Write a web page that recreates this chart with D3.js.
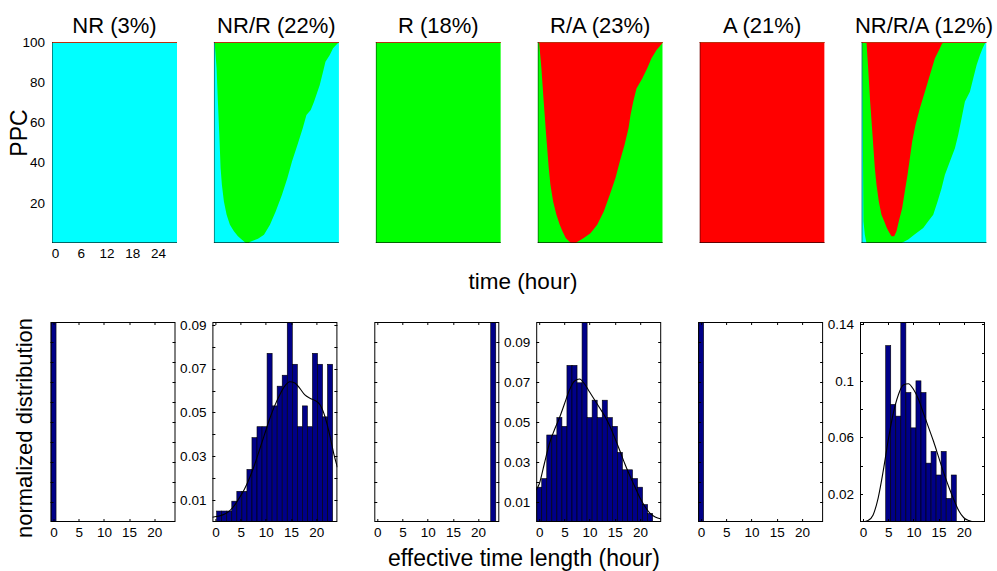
<!DOCTYPE html>
<html>
<head>
<meta charset="utf-8">
<script src="https://cdn.jsdelivr.net/npm/d3@7"></script>
<style>
  body { margin: 0; background: #fff; }
  svg { display: block; font-family: "Liberation Sans", Arial, Helvetica, sans-serif; }
</style>
</head>
<body>
<svg id="chart" width="997" height="571"></svg>
<script>
// panel titles and states
const panelTitles = ['NR (3%)', 'NR/R (22%)', 'R (18%)', 'R/A (23%)', 'A (21%)', 'NR/R/A (12%)']
const baseStates = ['NR', 'NR', 'R', 'R', 'A', 'NR']
const stateColors = { NR: '#00ffff', R: '#00ff00', A: '#ff0000' }

// top row tick labels
const timeTicks = [0, 6, 12, 18, 24]
const ppcTicks = [20, 40, 60, 80, 100]

// top row boundaries, [PPC, hour]; left edge goes 100 -> 0, right edge 0 -> 100
const nrrGreenLeft = [[100, -0.54], [86.9, -0.07], [70.3, 0.23], [53.8, 0.56], [37.3, 0.86], [29, 1.16],
  [20.7, 1.63], [14.1, 2.26], [9.1, 3.03], [5.8, 3.96], [3.3, 4.9], [1.6, 5.83], [0.5, 6.46], [0, 6.7]]
const nrrGreenRight = [[0, 7.5], [0.5, 7.62], [2.1, 9.56], [4.1, 10.96], [9.1, 12.35], [15.7, 13.68], [24, 15.15],
  [32.3, 16.41], [40.5, 17.48], [48.8, 18.74], [57.1, 19.98], [63.7, 20.84], [66.2, 21.84], [70.3, 22.61],
  [78.6, 23.94], [85.2, 24.71], [90.2, 25.27], [93.5, 26.27], [96.9, 27.04], [100, 28.4]]

const raRedLeft = [[100, -0.38], [86.9, 0.16], [70.3, 0.7], [53.8, 1.26], [37.3, 1.87], [29, 2.26], [20.7, 2.89],
  [14.1, 3.66], [9.1, 4.43], [5.8, 5.06], [2.5, 5.83], [0.5, 6.76], [0, 7.0]]
const raRedRight = [[0, 8.2], [0.5, 8.48], [2.5, 10.02], [4.9, 11.58], [9.1, 13.15], [15.7, 14.68], [24, 16.08],
  [32.3, 17.41], [40.5, 18.41], [48.8, 19.51], [57.1, 20.44], [63.7, 20.91], [70.3, 21.54], [76.9, 22.3],
  [81.9, 23.64], [86.9, 24.8], [91.9, 25.8], [96, 26.97], [99.4, 28.3], [100, 28.4]]

const nrraGreenLeft = [[100, -0.55], [10.8, -0.24], [4.1, 0.07], [0, 0.46]]
const nrraGreenRight = [[0, 8.62], [1.7, 10.17], [4.1, 11.57], [7.5, 13.67], [10.8, 14.83], [14.1, 16.0],
  [20.7, 17.01], [27.3, 17.94], [33.9, 18.72], [40.6, 19.88], [47.2, 21.05], [53.8, 21.82], [62.1, 22.6],
  [70.4, 23.38], [75.3, 24.54], [82, 25.32], [88.6, 26.1], [93.5, 26.88], [96.9, 27.5], [100, 28.2]]
const nrraRedLeft = [[100, 0.46], [86.9, 0.85], [70.4, 1.31], [53.8, 1.86], [37.3, 2.4], [29, 2.79], [20.7, 3.33],
  [14.1, 3.95], [10.8, 4.58], [7.5, 5.2], [5, 5.82], [3.3, 6.29]]
const nrraRedRight = [[3.3, 6.91], [5.8, 7.45], [10.8, 7.99], [17.4, 8.77], [25.7, 9.39], [33.9, 10.02],
  [42.2, 10.56], [50.5, 11.1], [58.8, 11.88], [67, 12.89], [75.3, 14.06], [83.6, 15.22], [91.9, 16.39],
  [96.9, 17.55], [99.4, 18.1], [100, 19.65]]

// bottom row: histograms of effective time length (bin centres as read)
const lengthTicks = [0, 5, 10, 15, 20]

const nrBins = [0]
const nrDist = [1]
const nrrBins = [0.75, 1.75, 2.75, 3.75, 4.75, 5.75, 6.75, 7.75, 8.75, 9.75, 10.75, 11.75, 12.75, 13.75,
  14.75, 15.75, 16.75, 17.75, 18.75, 19.75, 20.75, 21.75, 22.75]
const nrrDist = [0.005, 0.005, 0.005, 0.0095, 0.014, 0.014, 0.024, 0.0385, 0.0435, 0.0435, 0.077, 0.053,
  0.062, 0.067, 0.0913, 0.072, 0.0435, 0.053, 0.0435, 0.077, 0.072, 0.048, 0.072]
const rBins = [23]
const rDist = [1]
const raBins = [0, 1, 2, 3, 4, 5, 6, 7, 8, 9, 10, 11, 12, 13, 14, 15, 16, 17, 18, 19, 20, 21, 22]
const raDist = [0.0174, 0.0217, 0.0435, 0.0435, 0.0522, 0.0478, 0.0783, 0.0783, 0.0696, 0.1, 0.0522, 0.0609,
  0.0522, 0.0609, 0.0522, 0.0478, 0.0348, 0.0261, 0.0261, 0.0217, 0.0174, 0.0087, 0.0043]
const aBins = [0]
const aDist = [1]
const nrraBins = [5, 6, 7, 8, 9, 10, 11, 12, 13, 14, 15, 16, 17, 18]
const nrraDist = [0.125, 0.0833, 0.075, 0.1417, 0.0917, 0.0667, 0.1, 0.0917, 0.0417, 0.05, 0.0333, 0.05,
  0.0167, 0.0333]

// fitted curves, [hour, density]
const nrrFit = [[-0.6, 0.0022], [1.75, 0.0035], [2.75, 0.005], [3.75, 0.0075], [4.75, 0.011], [5.75, 0.015],
  [6.75, 0.02], [7.75, 0.026], [8.75, 0.033], [9.75, 0.04], [10.75, 0.047], [11.75, 0.053], [12.75, 0.058],
  [13.75, 0.062], [14.75, 0.064], [15.75, 0.0635], [16.75, 0.061], [17.75, 0.058], [18.75, 0.0565],
  [19.75, 0.0555], [20.75, 0.0535], [21.75, 0.048], [22.75, 0.039], [23.5, 0.031], [24.2, 0.025]]
const raFit = [[-0.6, 0.016], [0, 0.019], [1, 0.029], [2, 0.039], [3, 0.046], [4, 0.052], [5, 0.059],
  [6, 0.066], [7, 0.0705], [8, 0.0715], [9, 0.069], [10, 0.065], [11, 0.061], [12, 0.057], [13, 0.053],
  [14, 0.048], [15, 0.042], [16, 0.0356], [17, 0.029], [18, 0.023], [19, 0.0175], [20, 0.012],
  [21, 0.0076], [22, 0.0043], [23, 0.0025], [24.2, 0.0015]]
const nrraFit = [[0, 0], [1, 0.001], [2, 0.005], [3, 0.017], [4, 0.036], [5, 0.058], [6, 0.077], [7, 0.09],
  [8, 0.097], [9, 0.098], [10, 0.094], [11, 0.087], [12, 0.077], [13, 0.067], [14, 0.057], [15, 0.046],
  [16, 0.035], [17, 0.025], [18, 0.016], [19, 0.008], [20, 0.003], [21, 0.001], [22, 0], [24.2, 0]]

// y ticks for the histograms
const unitTicks = [0.1, 0.2, 0.3, 0.4, 0.5, 0.6, 0.7, 0.8, 0.9]
const hundredthTicks = [0.01, 0.02, 0.03, 0.04, 0.05, 0.06, 0.07, 0.08, 0.09]
const hundredthLabels = [0.01, 0.03, 0.05, 0.07, 0.09]
const nrraTicks = [0.02, 0.04, 0.06, 0.08, 0.1, 0.12, 0.14]
const nrraLabels = [0.02, 0.06, 0.1, 0.14]

// per-panel setup built from the arrays above
const topLayers = [
  [],
  [{ state: 'R', left: nrrGreenLeft, right: nrrGreenRight }],
  [],
  [{ state: 'A', left: raRedLeft, right: raRedRight }],
  [],
  [{ state: 'R', left: nrraGreenLeft, right: nrraGreenRight },
   { state: 'A', left: nrraRedLeft, right: nrraRedRight }]
]
const hists = [
  { bins: nrBins, dist: nrDist, max: 1, ticks: unitTicks, labels: [] },
  { bins: nrrBins, dist: nrrDist, max: 0.0913, ticks: hundredthTicks, labels: hundredthLabels, fit: nrrFit },
  { bins: rBins, dist: rDist, max: 1, ticks: unitTicks, labels: [] },
  { bins: raBins, dist: raDist, max: 0.1, ticks: hundredthTicks, labels: hundredthLabels, fit: raFit },
  { bins: aBins, dist: aDist, max: 1, ticks: unitTicks, labels: [] },
  { bins: nrraBins, dist: nrraDist, max: 0.1417, ticks: nrraTicks, labels: nrraLabels, fit: nrraFit }
]

// layout
const panelW = 125
const step = 161.9
const topLeft = 52, topY = 42, topH = 201
const botLeft = 50.5, botY = 322, botH = 200

const svg = d3.select('#chart')

const xTop = d3.scaleLinear().domain([-0.7, 28.4]).range([0, panelW])
const yTop = d3.scaleLinear().domain([0, 100]).range([topH, 0])
const xBot = d3.scaleLinear().domain([-0.6, 24.2]).range([0, panelW])

const region = d3.line()
  .x(function(d) { return xTop(d[1]) })
  .y(function(d) { return yTop(d[0]) })

// top row: state maps
panelTitles.forEach(function(title, i) {
  const g = svg.append('g')
    .attr('transform', 'translate(' + (topLeft + i * step) + ',' + topY + ')')

  g.append('clipPath').attr('id', 'clipTop' + i)
    .append('rect').attr('width', panelW).attr('height', topH)

  const body = g.append('g').attr('clip-path', 'url(#clipTop' + i + ')')
  body.append('rect')
    .attr('x', xTop(xTop.domain()[0]))
    .attr('y', yTop(100))
    .attr('width', xTop(xTop.domain()[1]) - xTop(xTop.domain()[0]))
    .attr('height', yTop(0) - yTop(100))
    .attr('fill', stateColors[baseStates[i]])

  topLayers[i].forEach(function(layer) {
    body.append('path')
      .attr('d', region(layer.left.concat(layer.right)) + 'Z')
      .attr('fill', stateColors[layer.state])
  })

  // frame lines
  g.append('line').attr('x1', 0).attr('x2', panelW).attr('y1', 0.5).attr('y2', 0.5)
    .attr('stroke', '#b8320f').attr('stroke-width', 1)
  g.append('line').attr('x1', 0).attr('x2', panelW).attr('y1', topH - 0.5).attr('y2', topH - 0.5)
    .attr('stroke', '#000').attr('stroke-opacity', 0.6)
  g.append('line').attr('x1', 0.5).attr('x2', 0.5).attr('y1', 0).attr('y2', topH)
    .attr('stroke', '#000').attr('stroke-opacity', 0.45)

  g.append('text')
    .attr('x', panelW / 2).attr('y', -9)
    .attr('text-anchor', 'middle')
    .attr('font-size', 22)
    .text(title)

  if (i === 0) {
    const ya = g.append('g').call(d3.axisLeft(yTop).tickValues(ppcTicks).tickSize(0).tickPadding(7))
    const xa = g.append('g').attr('transform', 'translate(0,' + topH + ')')
      .call(d3.axisBottom(xTop).tickValues(timeTicks).tickSize(0).tickPadding(5))
    ;[ya, xa].forEach(function(a) {
      a.select('.domain').remove()
      a.selectAll('text').attr('font-size', 13.5).attr('fill', '#000')
        .style('font-family', '"Liberation Sans", Arial, sans-serif')
    })
  }
})

// bottom row: histograms
const fitLine = d3.line().curve(d3.curveMonotoneX)

hists.forEach(function(h, i) {
  const y = d3.scaleLinear().domain([0, h.max]).range([botH, 0])
  const g = svg.append('g')
    .attr('transform', 'translate(' + (botLeft + i * step) + ',' + botY + ')')

  g.append('clipPath').attr('id', 'clipBot' + i)
    .append('rect').attr('width', panelW).attr('height', botH)
  const body = g.append('g').attr('clip-path', 'url(#clipBot' + i + ')')

  body.selectAll('rect.bar')
    .data(h.bins.map(function(b, k) { return { bin: b, v: h.dist[k] } }))
    .join('rect')
    .attr('class', 'bar')
    .attr('x', function(d) { return xBot(d.bin - 0.5) })
    .attr('width', function(d) { return xBot(d.bin + 0.5) - xBot(d.bin - 0.5) })
    .attr('y', function(d) { return y(d.v) })
    .attr('height', function(d) { return botH - y(d.v) })
    .attr('fill', '#000088')
    .attr('stroke', '#000')
    .attr('stroke-width', 0.6)

  if (h.fit) {
    fitLine.x(function(d) { return xBot(d[0]) }).y(function(d) { return y(d[1]) })
    body.append('path')
      .attr('d', fitLine(h.fit))
      .attr('fill', 'none')
      .attr('stroke', '#000')
      .attr('stroke-width', 1.1)
  }

  // inner ticks on all four sides
  const tl = 3
  const ticks = g.append('g').attr('stroke', '#000').attr('stroke-width', 1)
  lengthTicks.forEach(function(t) {
    const xx = Math.round(xBot(t)) + 0.5
    ticks.append('line').attr('x1', xx).attr('x2', xx).attr('y1', 0).attr('y2', tl)
    ticks.append('line').attr('x1', xx).attr('x2', xx).attr('y1', botH).attr('y2', botH - tl)
  })
  h.ticks.forEach(function(t) {
    const yy = Math.round(y(t)) + 0.5
    ticks.append('line').attr('x1', 0).attr('x2', tl).attr('y1', yy).attr('y2', yy)
    ticks.append('line').attr('x1', panelW).attr('x2', panelW - tl).attr('y1', yy).attr('y2', yy)
  })

  g.append('rect')
    .attr('x', 0.5).attr('y', 0.5)
    .attr('width', panelW - 1).attr('height', botH - 1)
    .attr('fill', 'none').attr('stroke', '#000').attr('stroke-width', 1)

  const xa = g.append('g').attr('transform', 'translate(0,' + botH + ')')
    .call(d3.axisBottom(xBot).tickValues(lengthTicks).tickSize(0).tickPadding(5))
  const ya = g.append('g')
    .call(d3.axisLeft(y).tickValues(h.labels).tickSize(0).tickPadding(6)
      .tickFormat(function(d) { return String(d) }))
  ;[xa, ya].forEach(function(a) {
    a.select('.domain').remove()
    a.selectAll('text').attr('font-size', 13.5).attr('fill', '#000')
      .style('font-family', '"Liberation Sans", Arial, sans-serif')
  })
})

// shared axis titles
svg.append('text')
  .attr('x', 523).attr('y', 289)
  .attr('text-anchor', 'middle').attr('font-size', 22.5)
  .text('time (hour)')
svg.append('text')
  .attr('transform', 'translate(27,133) rotate(-90)')
  .attr('text-anchor', 'middle').attr('font-size', 23)
  .text('PPC')
svg.append('text')
  .attr('transform', 'translate(32,428) rotate(-90)')
  .attr('text-anchor', 'middle').attr('font-size', 22)
  .text('normalized distribution')
svg.append('text')
  .attr('x', 524).attr('y', 566)
  .attr('text-anchor', 'middle').attr('font-size', 23)
  .text('effective time length (hour)')
</script>
</body>
</html>
